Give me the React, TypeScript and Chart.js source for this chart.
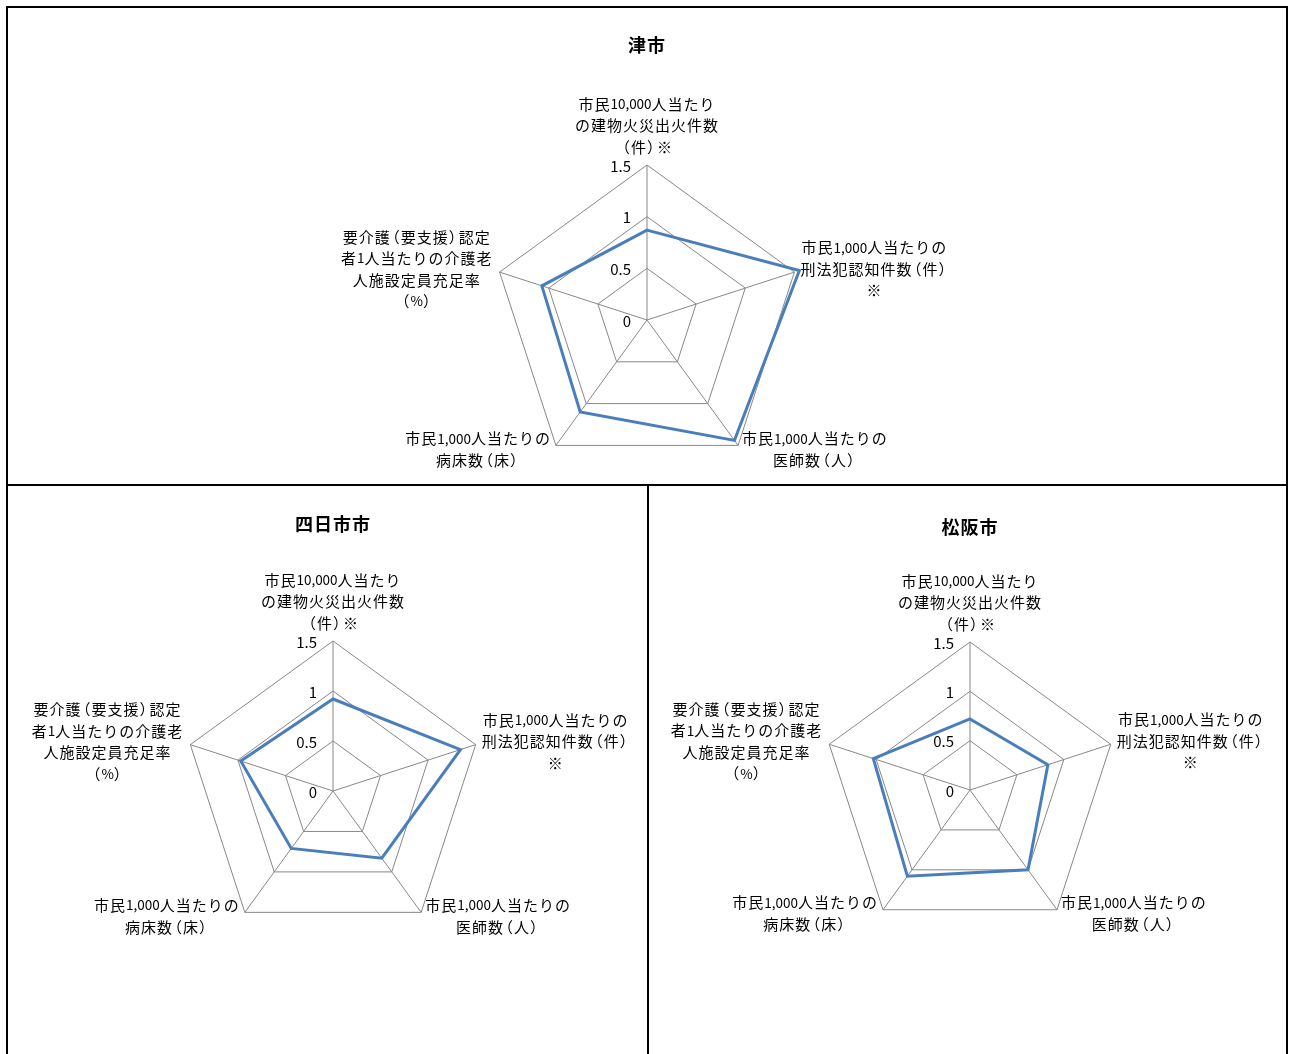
import React, { useEffect, useRef } from "react";
import { Chart, registerables } from "chart.js";

Chart.register(...registerables);

const AXIS_LABELS: string[][] = [
  ["市民10,000人当たり", "の建物火災出火件数", "（件）※"],
  ["市民1,000人当たりの", "刑法犯認知件数（件）", "※"],
  ["市民1,000人当たりの", "医師数（人）"],
  ["市民1,000人当たりの", "病床数（床）"],
  ["要介護（要支援）認定", "者1人当たりの介護老", "人施設定員充足率", "（%）"],
];

const TICK_VALUES = [0, 0.5, 1, 1.5];
const TICK_LABELS = ["0", "0.5", "1", "1.5"];

const TSU_VALUES = [0.87, 1.55, 1.44, 1.1, 1.07];
const YOKKAICHI_VALUES = [0.92, 1.34, 0.83, 0.71, 0.97];
const MATSUSAKA_VALUES = [0.72, 0.83, 1.0, 1.08, 1.03];

const TITLES = ["津市", "四日市市", "松阪市"];

const FONT = '"Noto Sans CJK JP", "Noto Sans", sans-serif';
const EM = 15;

type Glyph = { ch: string; font: string; adv: number; dx: number };

function layoutText(ctx: CanvasRenderingContext2D, text: string): Glyph[] {
  const out: Glyph[] = [];
  for (const ch of Array.from(text)) {
    if (ch === "（") {
      out.push({ ch, font: `${EM}px ${FONT}`, adv: 0.6 * EM + 1, dx: -0.4 * EM });
    } else if (ch === "）") {
      out.push({ ch, font: `${EM}px ${FONT}`, adv: 0.6 * EM + 1, dx: 0 });
    } else if (ch.charCodeAt(0) < 128) {
      const f = `13.5px ${FONT}`;
      ctx.font = f;
      out.push({ ch, font: f, adv: ctx.measureText(ch).width, dx: 0 });
    } else {
      const f = `${EM}px ${FONT}`;
      ctx.font = f;
      out.push({ ch, font: f, adv: ctx.measureText(ch).width + 1, dx: 0 });
    }
  }
  return out;
}

function textWidth(ctx: CanvasRenderingContext2D, text: string) {
  return layoutText(ctx, text).reduce((s, g) => s + g.adv, 0);
}

function drawText(ctx: CanvasRenderingContext2D, text: string, cx: number, y: number) {
  const glyphs = layoutText(ctx, text);
  const total = glyphs.reduce((s, g) => s + g.adv, 0);
  let x = cx - total / 2;
  ctx.textAlign = "left";
  for (const g of glyphs) {
    ctx.font = g.font;
    ctx.fillText(g.ch, x + g.dx, y);
    x += g.adv;
  }
}

const labelPlugin = {
  id: "excelLabels",
  afterDraw(chart: any, _args: any, opts: any) {
    const scale = chart.scales.r;
    const ctx = chart.ctx as CanvasRenderingContext2D;
    ctx.save();
    ctx.fillStyle = "#000";
    ctx.textBaseline = "middle";
    (ctx as any).letterSpacing = "0px";
    const outer = scale.getDistanceFromCenterForValue(scale.max);
    const lh = 21.5;
    AXIS_LABELS.forEach((lines, i) => {
      const p = scale.getPointPosition(i, outer);
      const bw = Math.max(...lines.map((l) => textWidth(ctx, l)));
      const n = lines.length;
      let cx = p.x;
      let y0 = p.y;
      if (i === 0) {
        cx = p.x;
        y0 = p.y - 18 - (n - 1) * lh;
      } else if (i === 1) {
        cx = p.x + 6 + bw / 2;
        y0 = p.y - 3 - ((n - 1) * lh) / 2;
      } else if (i === 2) {
        cx = p.x + 4 + bw / 2;
        y0 = p.y - 7;
      } else if (i === 3) {
        cx = p.x - 5 - bw / 2;
        y0 = p.y - 7;
      } else {
        cx = p.x - 7 - bw / 2;
        y0 = p.y - 3 - ((n - 1) * lh) / 2;
      }
      lines.forEach((l, k) => drawText(ctx, l, cx, y0 + k * lh));
    });
    ctx.font = `15px ${FONT}`;
    ctx.textAlign = "right";
    TICK_VALUES.forEach((v, k) => {
      const d = scale.getDistanceFromCenterForValue(v);
      ctx.fillText(TICK_LABELS[k], scale.xCenter - 16, scale.yCenter - d + 1);
    });
    ctx.font = `bold 18px ${FONT}`;
    (ctx as any).letterSpacing = "1px";
    ctx.textAlign = "center";
    ctx.fillText(opts.title, scale.xCenter, opts.titleY);
    ctx.restore();
  },
};

type RadarProps = {
  title: string;
  values: number[];
  left: number;
  top: number;
  width: number;
  height: number;
  padding: { left: number; right: number; top: number; bottom: number };
  titleY: number;
};

function Radar(props: RadarProps) {
  const ref = useRef<HTMLCanvasElement | null>(null);
  useEffect(() => {
    if (!ref.current) return;
    const chart = new Chart(ref.current, {
      type: "radar",
      data: {
        labels: AXIS_LABELS,
        datasets: [
          {
            data: props.values,
            borderColor: "#4A7EBB",
            borderWidth: 3,
            pointRadius: 0,
            pointHoverRadius: 0,
            fill: false,
            tension: 0,
            borderJoinStyle: "miter",
            clip: false,
          } as any,
        ],
      },
      options: {
        responsive: false,
        animation: false,
        events: [],
        layout: { padding: props.padding },
        plugins: {
          legend: { display: false },
          title: { display: false },
          tooltip: { enabled: false },
          excelLabels: { title: props.title, titleY: props.titleY },
        } as any,
        scales: {
          r: {
            min: 0,
            max: 1.5,
            ticks: { stepSize: 0.5, display: false },
            grid: { color: "#888888", lineWidth: 1 },
            angleLines: { color: "#888888", lineWidth: 1 },
            pointLabels: { display: false },
          },
        },
      },
      plugins: [labelPlugin as any],
    });
    return () => chart.destroy();
  }, []);
  return (
    <canvas
      ref={ref}
      width={props.width}
      height={props.height}
      style={{
        position: "absolute",
        left: props.left,
        top: props.top,
        width: props.width,
        height: props.height,
      }}
    />
  );
}

const line = (l: number, t: number, w: number, h: number) => (
  <div style={{ position: "absolute", left: l, top: t, width: w, height: h, background: "#000" }} />
);

export default function App() {
  return (
    <div
      style={{
        position: "fixed",
        left: 0,
        top: 0,
        width: 1291,
        height: 1054,
        overflow: "hidden",
        background: "#fff",
      }}
    >
      <Radar
        title={TITLES[0]}
        values={TSU_VALUES}
        left={8}
        top={8}
        width={1278}
        height={476}
        padding={{ left: 484, right: 484, top: 157, bottom: 9 }}
        titleY={37}
      />
      <Radar
        title={TITLES[1]}
        values={YOKKAICHI_VALUES}
        left={8}
        top={486}
        width={639}
        height={568}
        padding={{ left: 175, right: 164, top: 155, bottom: 113 }}
        titleY={38}
      />
      <Radar
        title={TITLES[2]}
        values={MATSUSAKA_VALUES}
        left={649}
        top={486}
        width={637}
        height={568}
        padding={{ left: 173, right: 168, top: 156, bottom: 116 }}
        titleY={41}
      />
      {line(6, 6, 1282, 2)}
      {line(6, 6, 2, 1048)}
      {line(1286, 6, 2, 1048)}
      {line(6, 484, 1282, 2)}
      {line(647, 484, 2, 570)}
    </div>
  );
}
